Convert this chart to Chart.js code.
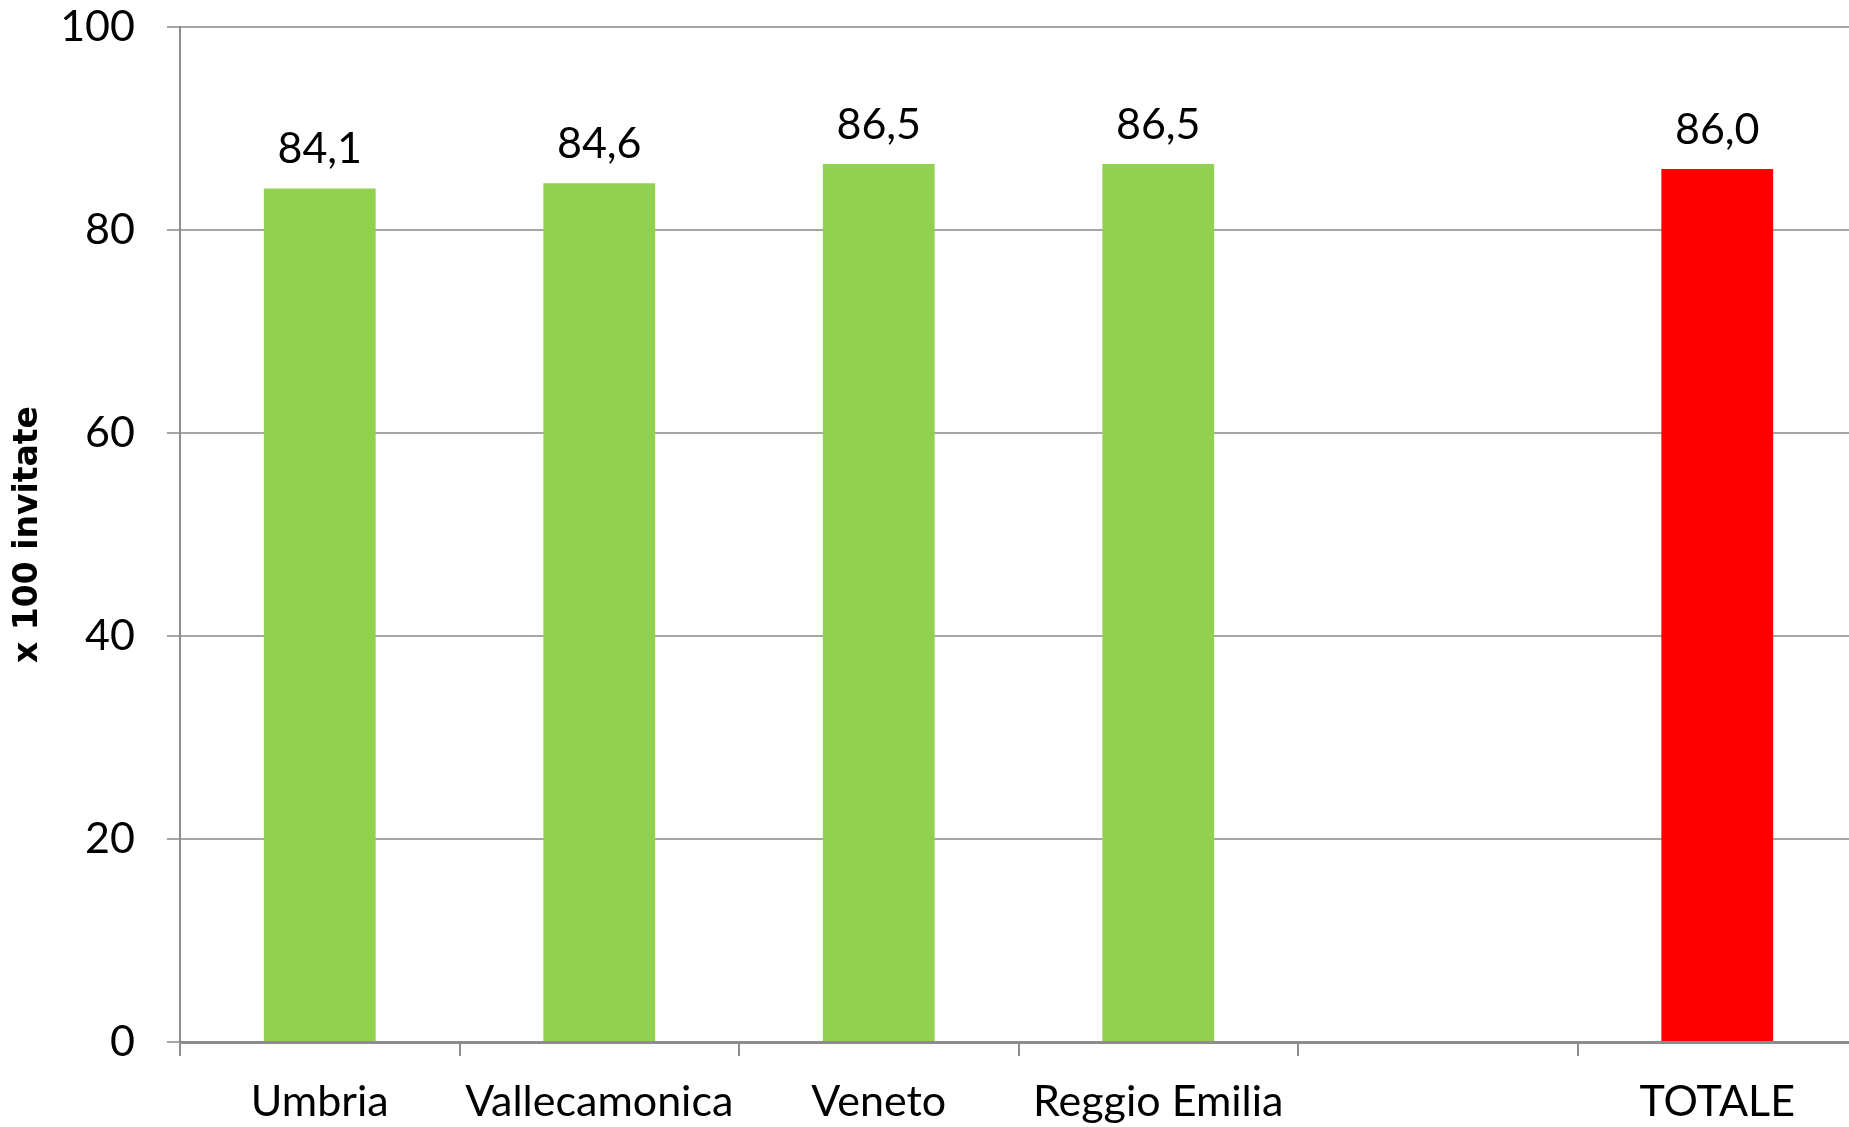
<!DOCTYPE html>
<html>
<head>
<meta charset="utf-8">
<script src="https://cdn.jsdelivr.net/npm/chart.js@4/dist/chart.umd.min.js"></script>
<style>
  html, body { margin: 0; padding: 0; background: #fff; overflow: hidden; }
  #wrap { width: 1857px; height: 1127px; position: relative; }
</style>
</head>
<body>
<div id="wrap"><canvas id="chart"></canvas></div>
<script>
// --- Data ---
const categories = ["Umbria", "Vallecamonica", "Veneto", "Reggio Emilia", "", "TOTALE"];
const values = [84.1, 84.6, 86.5, 86.5, null, 86.0];
const barColors = ["#92D050", "#92D050", "#92D050", "#92D050", "#92D050", "#FF0000"];
const yTicks = [0, 20, 40, 60, 80, 100];
const yTitle = "x 100 invitate";

const labelFont = { family: "Lato, 'Open Sans', sans-serif", size: 43 };

// draws the value above each bar, comma as decimal separator
const valueLabels = {
  id: "valueLabels",
  afterDatasetsDraw(chart) {
    const ctx = chart.ctx;
    const meta = chart.getDatasetMeta(0);
    ctx.save();
    ctx.font = `${labelFont.size}px ${labelFont.family}`;
    ctx.fillStyle = "#000";
    ctx.textAlign = "center";
    ctx.textBaseline = "alphabetic";
    meta.data.forEach((bar, i) => {
      const v = values[i];
      if (v === null) return;
      ctx.fillText(v.toFixed(1).replace(".", ","), bar.x, bar.y - 25);
    });
    ctx.restore();
  },
};

new Chart(document.getElementById("chart"), {
  type: "bar",
  data: {
    labels: categories,
    datasets: [
      {
        data: values,
        backgroundColor: barColors,
        barPercentage: 0.4,
        categoryPercentage: 1.0,
      },
    ],
  },
  options: {
    responsive: true,
    maintainAspectRatio: false,
    animation: false,
    layout: { padding: 0 },
    plugins: {
      legend: { display: false },
      tooltip: { enabled: false },
    },
    scales: {
      x: {
        grid: {
          display: true,
          drawOnChartArea: false,
          offset: true,
          tickLength: 14,
          color: "#8c8c8c",
          lineWidth: 2,
        },
        border: { color: "#8c8c8c", width: 3 },
        ticks: {
          color: "#000",
          font: labelFont,
          padding: 20,
          maxRotation: 0,
          autoSkip: false,
        },
        afterFit(scale) {
          scale.height = 85;
          scale.paddingLeft = 0;
          scale.paddingRight = 0;
        },
      },
      y: {
        min: 0,
        max: 100,
        afterBuildTicks(scale) {
          scale.ticks = yTicks.map((v) => ({ value: v }));
        },
        grid: {
          color: "#a6a6a6",
          lineWidth: 2,
          tickLength: 13,
        },
        border: { color: "#8c8c8c", width: 2 },
        ticks: {
          color: "#000",
          font: labelFont,
          padding: 32,
        },
        title: {
          display: true,
          text: yTitle,
          color: "#000",
          font: { family: "'DejaVu Sans', sans-serif", size: 33, weight: "bold" },
          padding: { top: 9, bottom: 0 },
        },
        afterFit(scale) {
          scale.width = 180;
          scale.paddingTop = 27;
          scale.paddingBottom = 0;
        },
      },
    },
  },
  plugins: [valueLabels],
});
</script>
</body>
</html>
